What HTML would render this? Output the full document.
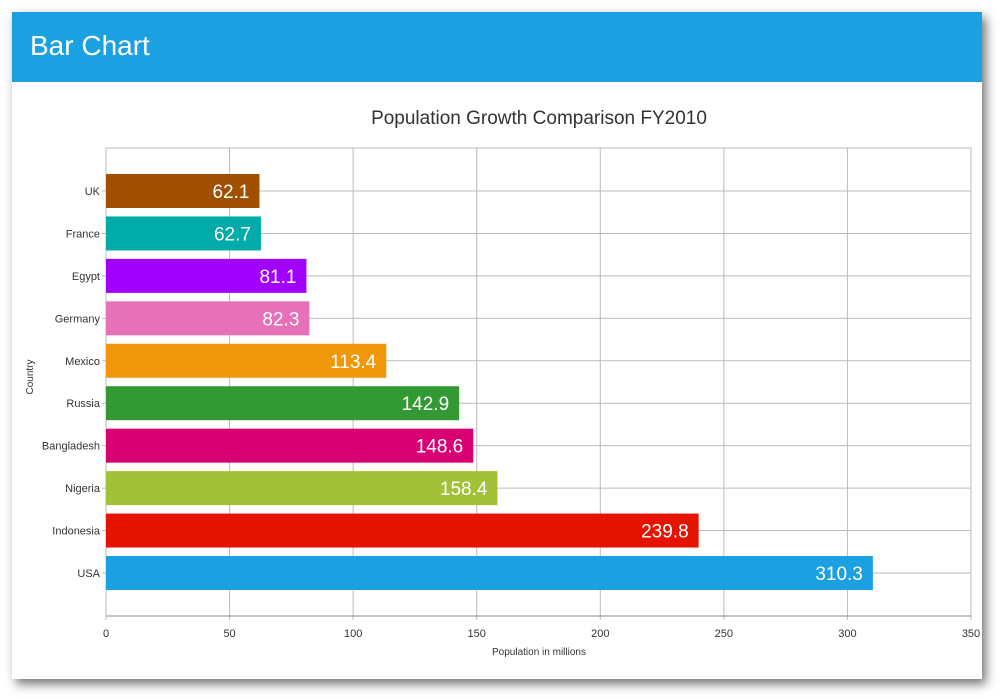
<!DOCTYPE html>
<html><head><meta charset="utf-8"><style>
body{margin:0;width:1002px;height:699px;background:#fff;overflow:hidden;font-family:"Liberation Sans",sans-serif}
#panel{position:absolute;left:12px;top:12px;width:970px;height:667px;background:#fff;box-shadow:4px 5px 10px rgba(0,0,0,0.55)}
#hdr{position:absolute;left:0;top:0;width:970px;height:70px;background:#1ba1e2}
#hdr span{position:absolute;left:18px;top:18px;color:#fff;font-size:28px;font-weight:300}
</style></head><body>
<div id="panel">
<div id="hdr"><span>Bar Chart</span></div>
</div>
<svg id="chart" width="1002" height="699" style="position:absolute;left:0;top:0"></svg>
<script>
const categories=["UK","France","Egypt","Germany","Mexico","Russia","Bangladesh","Nigeria","Indonesia","USA"];
const values=[62.1,62.7,81.1,82.3,113.4,142.9,148.6,158.4,239.8,310.3];
const colors=["#a05000","#00aba9","#a200ff","#e671b8","#f09609","#339933","#d80073","#a2c139","#e51400","#1ba1e2"];
const xTicks=[0,50,100,150,200,250,300,350];
const L=106,R=971,T=148,B=616;
const xs=v=>L+(v-350*0)/350*(R-L);
const ys=i=>191+i*(573-191)/(categories.length-1);
const svg=document.getElementById('chart');
const NS='http://www.w3.org/2000/svg';
function mk(t,a,txt){const e=document.createElementNS(NS,t);for(const k in a)e.setAttribute(k,a[k]);if(txt!==undefined)e.textContent=txt;svg.appendChild(e);return e;}
let e;
e=mk('rect',{x:L,y:T,width:R-L,height:B-T,fill:'none',stroke:'#bbb'});


xTicks.forEach(t=>{
 e=mk('line',{x1:xs(t),x2:xs(t),y1:T,y2:B+4,stroke:'#bbb'});
 
 
 e=mk('text',{x:xs(t),y:637,'text-anchor':'middle','font-size':11,fill:'#333'},t);
 
 
});
categories.forEach((c,i)=>{
 e=mk('line',{x1:L-4,x2:R,y1:ys(i),y2:ys(i),stroke:'#bbb'});
 
 
 e=mk('text',{x:L-6,y:ys(i)+4,'text-anchor':'end','font-size':11,fill:'#333'},c);
 
 
 e=mk('rect',{x:L,y:ys(i)-17,width:xs(values[i])-L,height:34,fill:colors[i]});
 
 
 e=mk('text',{x:xs(values[i])-10,y:ys(i)+7,'text-anchor':'end','font-size':19,fill:'#fff'},values[i].toFixed(1));
 
 
});
e=mk('line',{x1:L,x2:R,y1:B,y2:B,stroke:'#888'});


e=mk('text',{x:539,y:124,'text-anchor':'middle','font-size':19,fill:'#333'},'Population Growth Comparison FY2010');


e=mk('text',{x:539,y:655,'text-anchor':'middle','font-size':10,fill:'#333'},'Population in millions');


e=mk('text',{x:0,y:0,'text-anchor':'middle','font-size':10,fill:'#333',transform:'translate(33,377) rotate(-90)'},'Country');


</script>
</body></html>
